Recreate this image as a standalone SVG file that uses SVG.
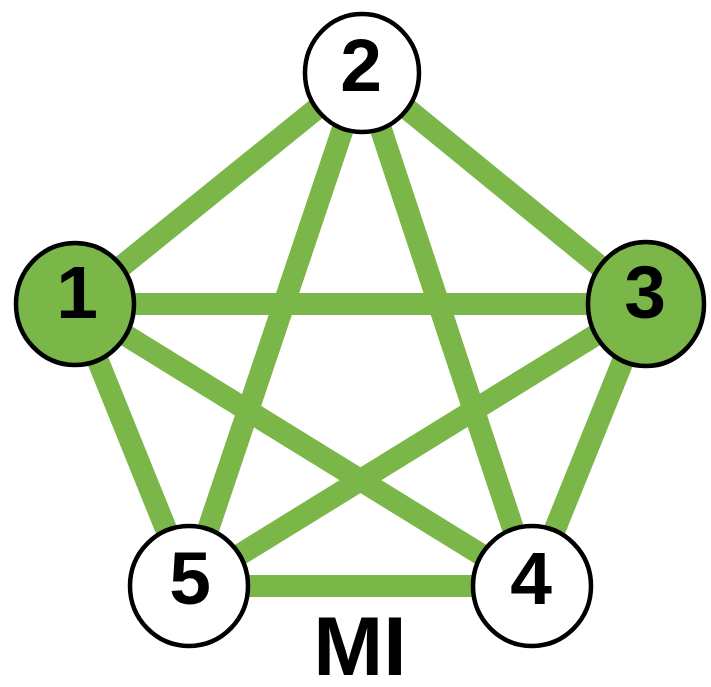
<svg xmlns="http://www.w3.org/2000/svg" width="711" height="687" viewBox="0 0 711 687">
  <style>
    .edge { stroke: #7ab648; stroke-width: 22; stroke-linecap: butt; fill: none; }
    .node { stroke: #000; stroke-width: 4.5; }
    .white { fill: #ffffff; }
    .green { fill: #7ab648; }
    .lbl { font-family: "Liberation Sans", Arial, sans-serif; font-weight: bold; font-size: 75px; fill: #000; text-anchor: middle; }
    .title { font-family: "Liberation Sans", Arial, sans-serif; font-weight: bold; font-size: 84px; fill: #000; text-anchor: middle; }
  </style>
  <rect width="711" height="687" fill="#ffffff"/>
  <g id="connectors">
    <line class="edge" x1="75" y1="304" x2="362" y2="72"/>
    <line class="edge" x1="362" y1="72" x2="646" y2="304"/>
    <line class="edge" x1="75" y1="304" x2="646" y2="304"/>
    <line class="edge" x1="75" y1="304" x2="189" y2="586"/>
    <line class="edge" x1="75" y1="304" x2="532" y2="586"/>
    <line class="edge" x1="362" y1="72" x2="189" y2="586"/>
    <line class="edge" x1="362" y1="72" x2="532" y2="586"/>
    <line class="edge" x1="646" y1="304" x2="189" y2="586"/>
    <line class="edge" x1="646" y1="304" x2="532" y2="586"/>
    <line class="edge" x1="189" y1="586" x2="532" y2="586"/>
  </g>
  <g id="node2">
    <ellipse class="node white" cx="362" cy="73" rx="57" ry="59"/>
    <text class="lbl" x="361" y="91">2</text>
  </g>
  <g id="node1">
    <ellipse class="node green" cx="75" cy="304" rx="59" ry="61"/>
    <text class="lbl" x="77" y="318">1</text>
  </g>
  <g id="node3">
    <ellipse class="node green" cx="646" cy="304" rx="58" ry="62"/>
    <text class="lbl" x="645" y="318">3</text>
  </g>
  <g id="node5">
    <ellipse class="node white" cx="189" cy="586" rx="59" ry="60"/>
    <text class="lbl" x="190" y="604">5</text>
  </g>
  <g id="node4">
    <ellipse class="node white" cx="532" cy="586" rx="59" ry="60"/>
    <text class="lbl" x="531" y="604">4</text>
  </g>
  <text class="title" x="360" y="675">MI</text>
</svg>
